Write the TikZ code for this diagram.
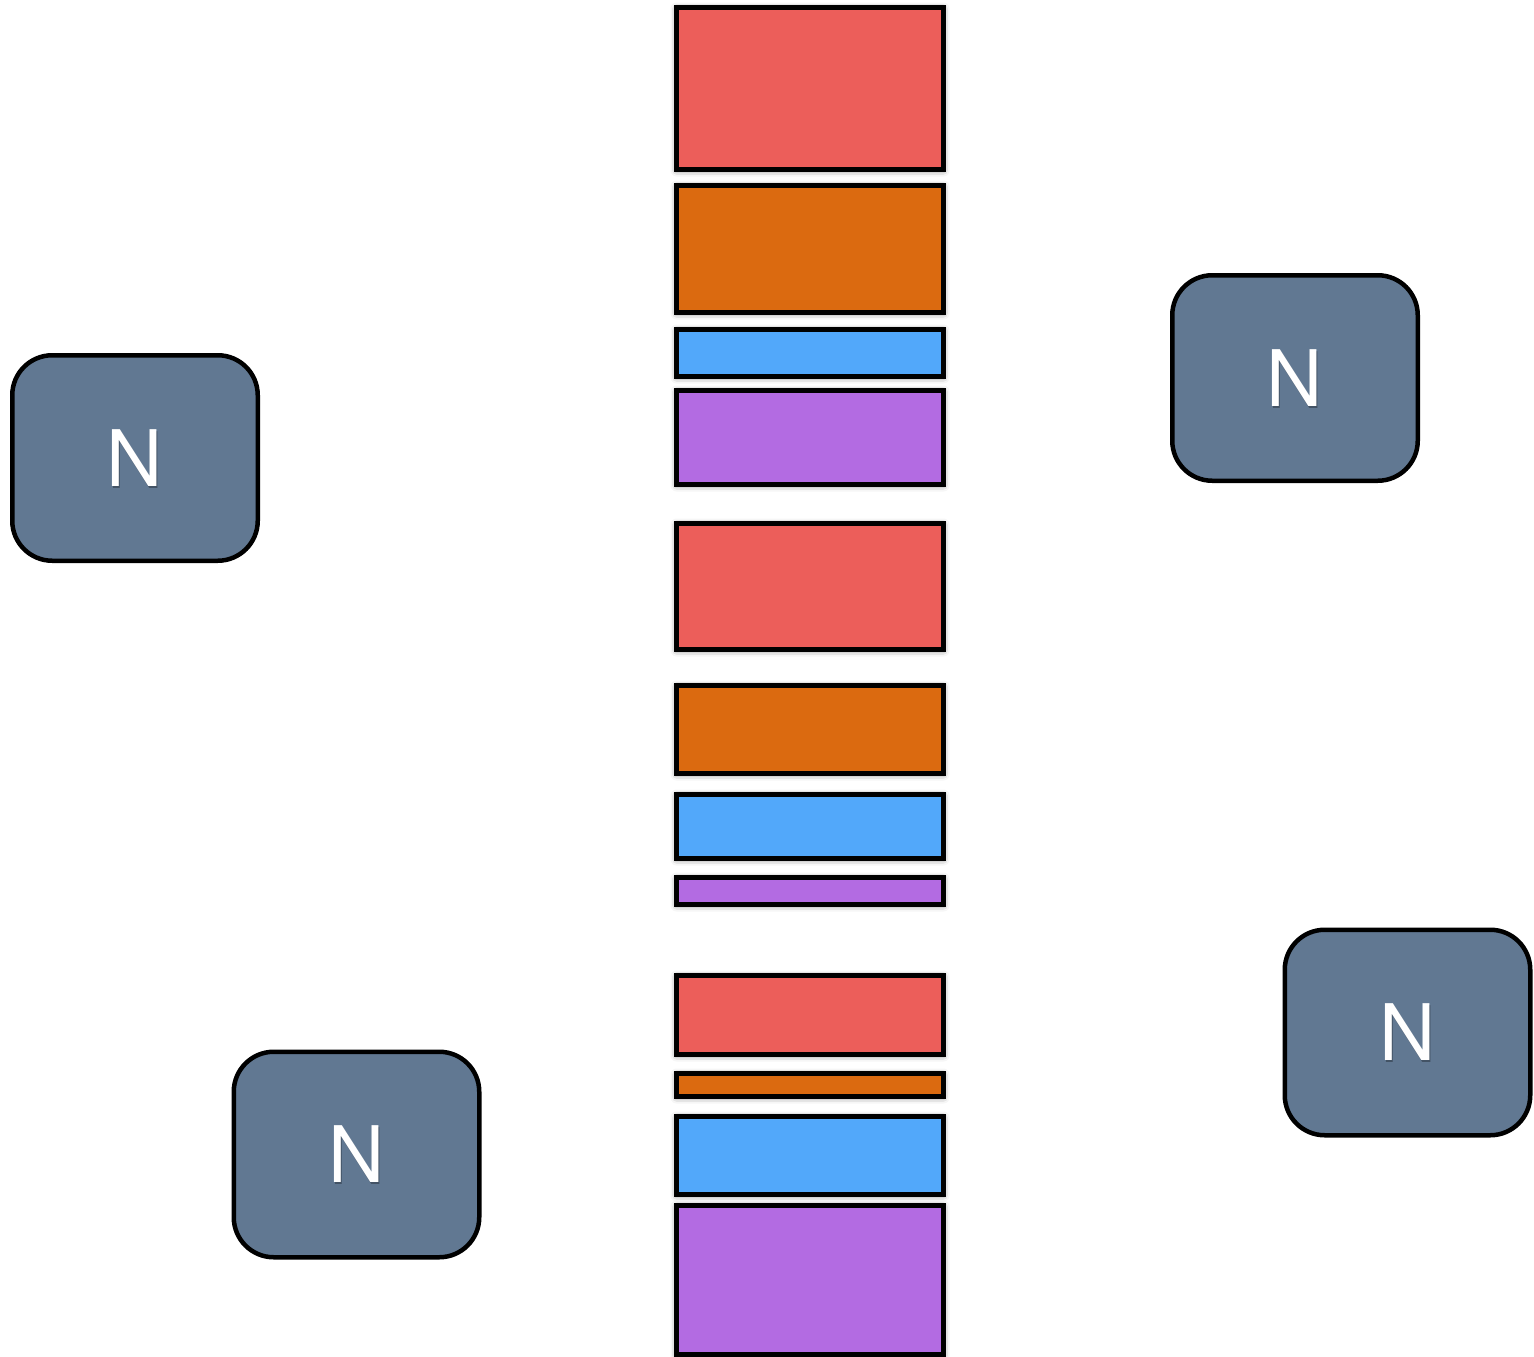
\documentclass[tikz,border=0pt]{standalone}
\usepackage{fontspec}
\setsansfont{TeX Gyre Heros}
\usetikzlibrary{shadows.blur}

\definecolor{segred}{HTML}{EC5E5A}
\definecolor{segorange}{HTML}{DB6A10}
\definecolor{segblue}{HTML}{52A8FA}
\definecolor{segpurple}{HTML}{B36BE2}
\definecolor{nodeslate}{RGB}{97,120,146}

\tikzset{
  seg/.style={draw=black, line width=5pt, rectangle, inner sep=0pt,
    anchor=north west, minimum width=267pt,
    blur shadow={shadow xshift=0pt, shadow yshift=-1pt,
      shadow blur radius=6pt, shadow opacity=55}},
  peer/.style={draw=black, line width=4.5pt, fill=nodeslate,
    rounded corners=40pt, inner sep=0pt,
    minimum width=245.5pt, minimum height=205.5pt},
  peerlabel/.style={text=white, font=\sffamily\fontsize{78}{78}\selectfont,
    inner sep=0pt},
  peershade/.style={text=black, opacity=0.3, font=\sffamily\fontsize{78}{78}\selectfont,
    inner sep=0pt}
}

\newcommand{\peernode}[3]{%
  \node[peer] (#1) at (#2,#3) {};
  \node[peershade] at ([xshift=1pt,yshift=-2pt]#1.center) {N};
  \node[peerlabel] (#1-label) at (#1.center) {N};
}

\begin{document}
\begin{tikzpicture}[x=1pt, y=-1pt]
  \useasboundingbox (0,0) rectangle (1534,1357);

  % central column of segments (anchored at the outer corner of the frame)
  \node[seg, fill=segred,    minimum height=162pt] (s1)  at (674,5)    {};
  \node[seg, fill=segorange, minimum height=127pt] (s2)  at (674,183)  {};
  \node[seg, fill=segblue,   minimum height=47pt]  (s3)  at (674,327)  {};
  \node[seg, fill=segpurple, minimum height=94pt]  (s4)  at (674,388)  {};

  \node[seg, fill=segred,    minimum height=126pt] (s5)  at (674,521)  {};
  \node[seg, fill=segorange, minimum height=88pt]  (s6)  at (674,683)  {};
  \node[seg, fill=segblue,   minimum height=64pt]  (s7)  at (674,792)  {};
  \node[seg, fill=segpurple, minimum height=27pt]  (s8)  at (674,875)  {};

  \node[seg, fill=segred,    minimum height=79pt]  (s9)  at (674,973)  {};
  \node[seg, fill=segorange, minimum height=23pt]  (s10) at (674,1071) {};
  \node[seg, fill=segblue,   minimum height=78pt]  (s11) at (674,1114) {};
  \node[seg, fill=segpurple, minimum height=149pt] (s12) at (674,1203) {};

  % surrounding N nodes
  \peernode{nleft}{135}{458}
  \peernode{ntopright}{1295}{378}
  \peernode{nbottomleft}{356.5}{1154.5}
  \peernode{nright}{1407.5}{1032.5}
\end{tikzpicture}
\end{document}
